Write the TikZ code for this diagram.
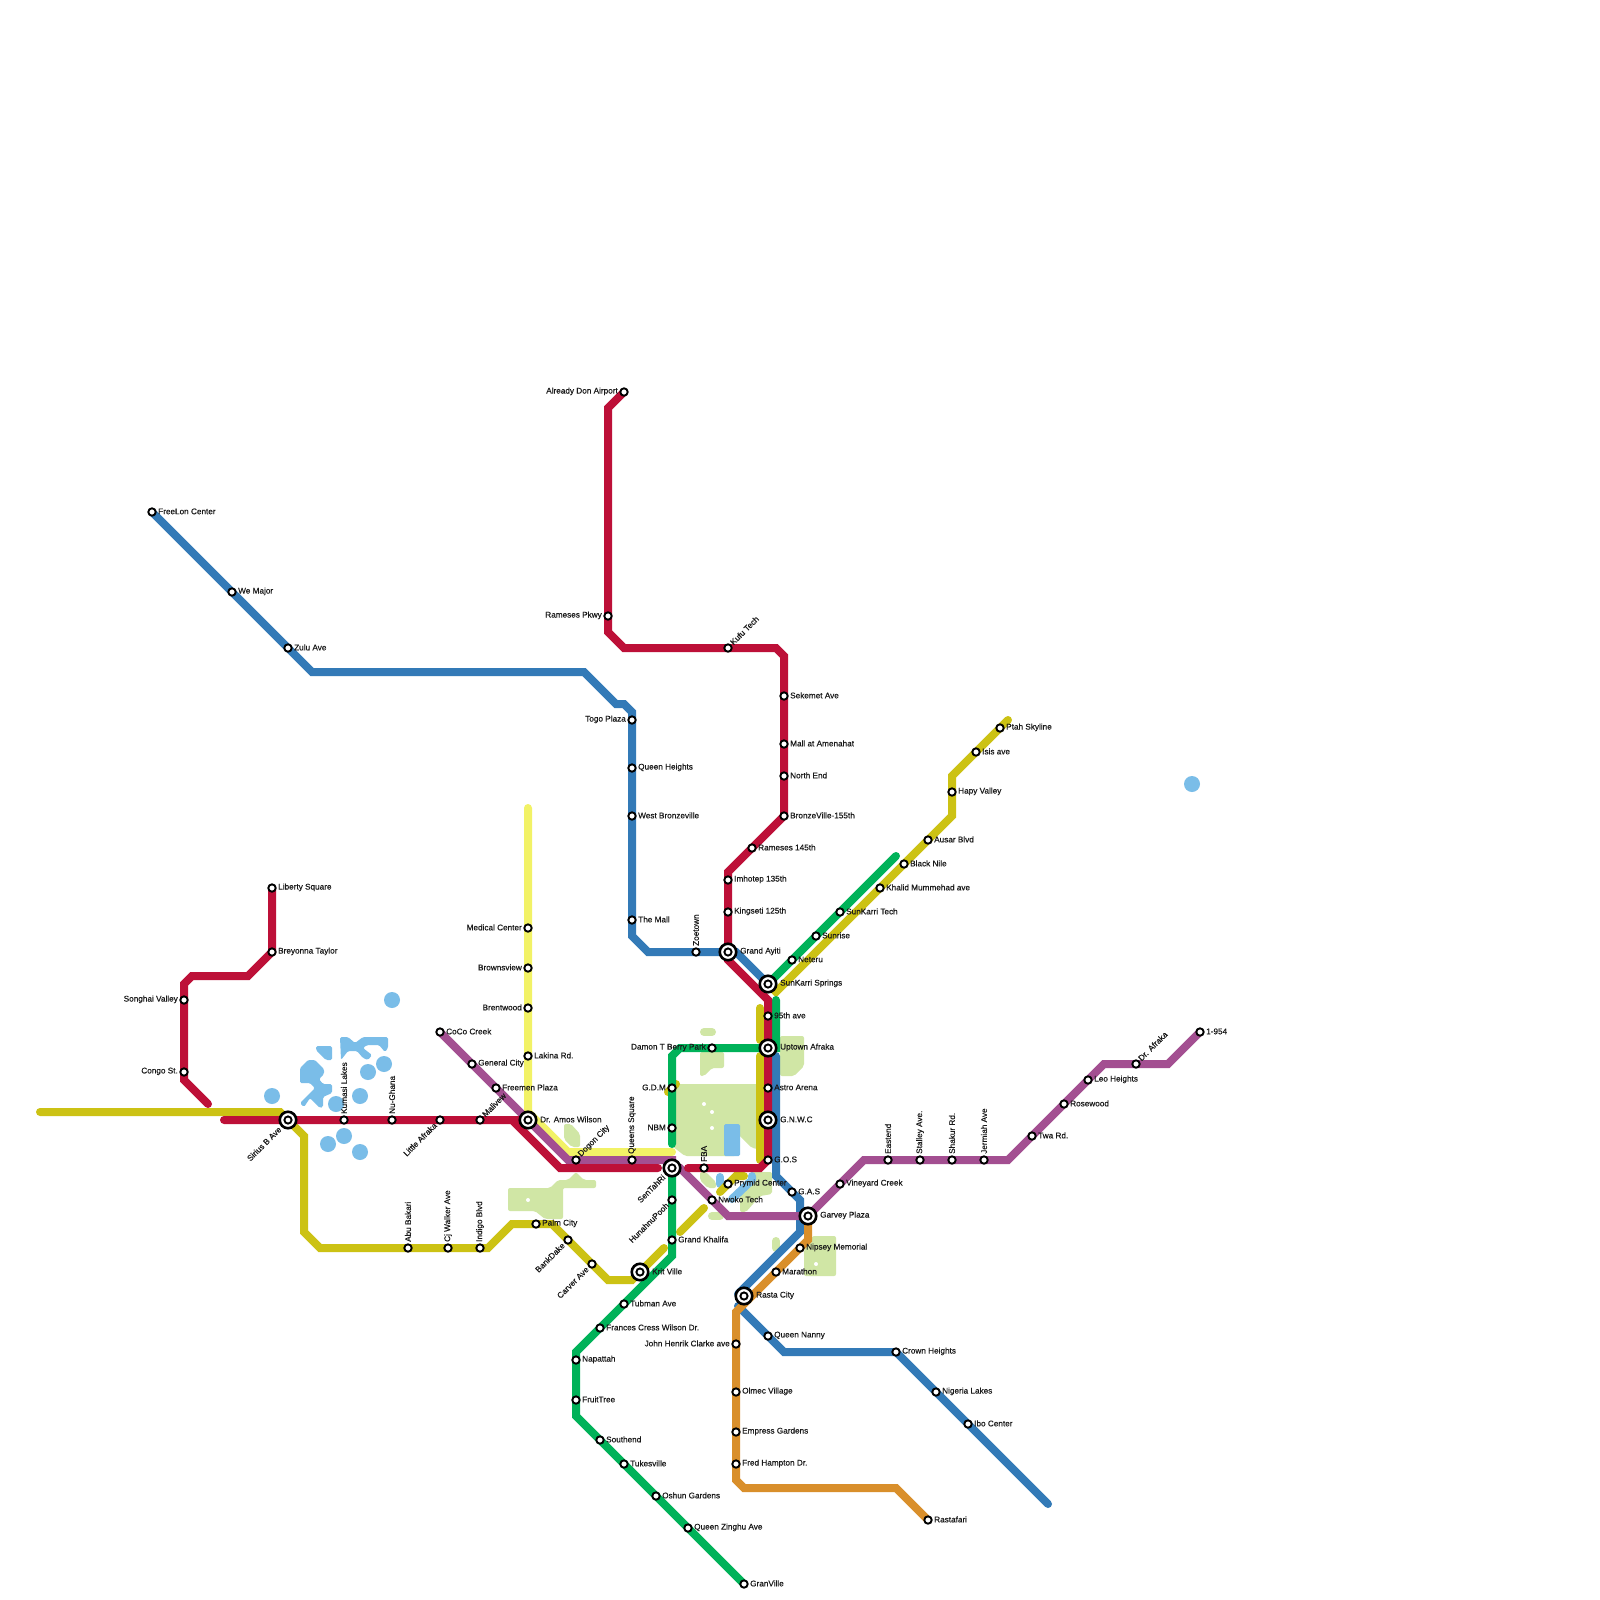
\documentclass[tikz,border=0pt]{standalone}
\usepackage{fontspec}
\setmainfont[FakeBold=0.4]{Liberation Sans}
\definecolor{cred}{HTML}{BD1038}
\definecolor{cblue}{HTML}{337AB7}
\definecolor{cpurple}{HTML}{A34F91}
\definecolor{cyell}{HTML}{F2F266}
\definecolor{colive}{HTML}{CCC214}
\definecolor{cgreen}{HTML}{00B259}
\definecolor{corange}{HTML}{D98F2B}
\definecolor{cpark}{HTML}{D0E6A5}
\definecolor{cwater}{HTML}{7ABDE8}
\pgfdeclarelayer{parks}
\pgfdeclarelayer{lines}
\pgfsetlayers{parks,lines,main}
\tikzset{
  stn/.style={circle,draw=black,fill=white,line width=1.9pt,minimum size=7.4pt,inner sep=0pt},
  hub/.style={circle,draw=black,fill=white,line width=2.6pt,minimum size=16.5pt,inner sep=0pt,
    path picture={\draw[black,line width=1.9pt] (path picture bounding box.center) circle (3.6pt);}},
  lab/.style={inner sep=0pt,text=black!90,font=\fontsize{8.2}{9}\selectfont},
  mline/.style={line width=8pt,line cap=round,line join=miter,miter limit=4},
  park/.style={fill=cpark,rounded corners=2pt},
  parkpill/.style={draw=cpark,line width=8pt,line cap=round},
  waterpill/.style={draw=cwater,line width=8pt,line cap=round,line join=round},
  water/.style={fill=cwater,rounded corners=1.5pt}
}
\newcommand\sR[4]{\node[stn] (#1) at (#2,#3) {}; \node[lab,anchor=west] (#1t) at (#2+6,#3-0.6) {#4};}
\newcommand\sL[4]{\node[stn] (#1) at (#2,#3) {}; \node[lab,anchor=east] (#1t) at (#2-6,#3-0.6) {#4};}
\newcommand\sU[4]{\node[stn] (#1) at (#2,#3) {}; \node[lab,anchor=west,rotate=90] (#1t) at (#2,#3-6) {#4};}
\newcommand\sA[4]{\node[stn] (#1) at (#2,#3) {}; \node[lab,anchor=west,rotate=45] (#1t) at (#2+3.5,#3-4.5) {#4};}
\newcommand\sD[4]{\node[stn] (#1) at (#2,#3) {}; \node[lab,anchor=east,rotate=45] (#1t) at (#2-4.5,#3+4) {#4};}
\newcommand\hR[4]{\node[hub] (#1) at (#2,#3) {}; \node[lab,anchor=west] (#1t) at (#2+12,#3-0.6) {#4};}
\newcommand\hD[4]{\node[hub] (#1) at (#2,#3) {}; \node[lab,anchor=east,rotate=45] (#1t) at (#2-8,#3+8) {#4};}
\begin{document}
\begin{tikzpicture}[x=1pt,y=-1pt]
\useasboundingbox (0,0) rectangle (1600,1600);
% stations: blue
\sR{freelon}{152}{512}{FreeLon Center}
\sR{wemajor}{232}{592}{We Major}
\sR{zulu}{288}{648}{Zulu Ave}
\sL{togo}{632}{720}{Togo Plaza}
\sR{queenh}{632}{768}{Queen Heights}
\sR{westb}{632}{816}{West Bronzeville}
\sR{mall}{632}{920}{The Mall}
\sU{zoe}{696}{952}{Zoetown}
\hR{ayiti}{728}{952}{Grand Ayiti}
\hR{sunk}{768}{984}{SunKarri Springs}
\sR{gas}{792}{1192}{G.A.S}
\hR{garvey}{808}{1216}{Garvey Plaza}
\hR{rasta}{744}{1296}{Rasta City}
\sR{nanny}{768}{1336}{Queen Nanny}
\sR{crown}{896}{1352}{Crown Heights}
\sR{nigeria}{936}{1392}{Nigeria Lakes}
\sR{ibo}{968}{1424}{Ibo Center}
% red
\sL{airport}{624}{392}{Already Don Airport}
\sL{rameses}{608}{616}{Rameses Pkwy}
\sA{kufu}{728}{648}{Kufu Tech}
\sR{sekemet}{784}{696}{Sekemet Ave}
\sR{amenahat}{784}{744}{Mall at Amenahat}
\sR{northend}{784}{776}{North End}
\sR{bronze}{784}{816}{BronzeVille-155th}
\sR{r145}{752}{848}{Rameses 145th}
\sR{imhotep}{728}{880}{Imhotep 135th}
\sR{kingseti}{728}{912}{Kingseti 125th}
\sR{n95}{768}{1016}{95th ave}
\hR{uptown}{768}{1048}{Uptown Afraka}
\sR{astro}{768}{1088}{Astro Arena}
\hR{gnwc}{768}{1120}{G.N.W.C}
\sR{gos}{768}{1160}{G.O.S}
\sU{fba}{704}{1168}{FBA}
\hD{sentahri}{672}{1168}{SenTahRi}
\hD{sirius}{288}{1120}{Sirius B Ave}
\sU{kumasi}{344}{1120}{Kumasi Lakes}
\sU{nughana}{392}{1120}{Nu-Ghana}
\sD{afraka}{440}{1120}{Little Afraka}
\sA{malivew}{480}{1120}{Malivew}
\hR{amos}{528}{1120}{Dr. Amos Wilson}
\sR{liberty}{272}{888}{Liberty Square}
\sR{breyonna}{272}{952}{Breyonna Taylor}
\sL{songhai}{184}{1000}{Songhai Valley}
\sL{congo}{184}{1072}{Congo St.}
% olive
\sU{abu}{408}{1248}{Abu Bakari}
\sU{cj}{448}{1248}{Cj Walker Ave}
\sU{indigo}{480}{1248}{Indigo Blvd}
\sR{palm}{536}{1224}{Palm City}
\sD{bank}{568}{1240}{BankDake}
\sD{carver}{592}{1264}{Carver Ave}
\hR{krit}{640}{1272}{Krit Ville}
\sR{prymid}{728}{1184}{Prymid Center}
\sR{ptah}{1000}{728}{Ptah Skyline}
\sR{isis}{976}{752}{Isis ave}
\sR{hapy}{952}{792}{Hapy Valley}
\sR{ausar}{928}{840}{Ausar Blvd}
\sR{blacknile}{904}{864}{Black Nile}
\sR{khalid}{880}{888}{Khalid Mummehad ave}
% green
\sR{sunktech}{840}{912}{SunKarri Tech}
\sR{sunrise}{816}{936}{Sunrise}
\sR{neteru}{792}{960}{Neteru}
\sL{damon}{712}{1048}{Damon T Berry Park}
\sL{gdm}{672}{1088}{G.D.M}
\sL{nbm}{672}{1128}{NBM}
\sD{hunah}{672}{1200}{HunahnuPooh}
\sR{khalifa}{672}{1240}{Grand Khalifa}
\sR{tubman}{624}{1304}{Tubman Ave}
\sR{frances}{600}{1328}{Frances Cress Wilson Dr.}
\sR{napattah}{576}{1360}{Napattah}
\sR{fruit}{576}{1400}{FruitTree}
\sR{southend}{600}{1440}{Southend}
\sR{tukes}{624}{1464}{Tukesville}
\sR{oshun}{656}{1496}{Oshun Gardens}
\sR{zinghu}{688}{1528}{Queen Zinghu Ave}
\sR{granville}{744}{1584}{GranVille}
% yellow
\sL{medical}{528}{928}{Medical Center}
\sL{browns}{528}{968}{Brownsview}
\sL{brent}{528}{1008}{Brentwood}
\sR{lakina}{528}{1056}{Lakina Rd.}
% purple
\sR{coco}{440}{1032}{CoCo Creek}
\sR{general}{472}{1064}{General City}
\sR{freemen}{496}{1088}{Freemen Plaza}
\sA{dogon}{576}{1160}{Dogon City}
\sU{queens}{632}{1160}{Queens Square}
\sR{nwoko}{712}{1200}{Nwoko Tech}
\sR{vineyard}{840}{1184}{Vineyard Creek}
\sU{eastend}{888}{1160}{Eastend}
\sU{stalley}{920}{1160}{Stalley Ave.}
\sU{shakur}{952}{1160}{Shakur Rd.}
\sU{jermiah}{984}{1160}{Jermiah Ave}
\sR{twa}{1032}{1136}{Twa Rd.}
\sR{rosewood}{1064}{1104}{Rosewood}
\sR{leo}{1088}{1080}{Leo Heights}
\sA{drafraka}{1136}{1064}{Dr. Afraka}
\sR{i954}{1200}{1032}{1-954}
% orange
\sR{nipsey}{800}{1248}{Nipsey Memorial}
\sR{marathon}{776}{1272}{Marathon}
\sL{john}{736}{1344}{John Henrik Clarke ave}
\sR{olmec}{736}{1392}{Olmec Village}
\sR{empress}{736}{1432}{Empress Gardens}
\sR{fred}{736}{1464}{Fred Hampton Dr.}
\sR{rastafari}{928}{1520}{Rastafari}
% bends and free ends
\coordinate (b1) at (312,672); \coordinate (b2) at (584,672); \coordinate (b3) at (616,704);
\coordinate (b4) at (624,704); \coordinate (b5) at (632,712); \coordinate (b6) at (632,936);
\coordinate (b7) at (648,952); \coordinate (b8) at (736,952);
\coordinate (b9) at (776,1056); \coordinate (b10) at (776,1176); \coordinate (b11) at (800,1200);
\coordinate (b12) at (800,1232); \coordinate (b13) at (738,1294); \coordinate (b14) at (738,1306);
\coordinate (b15) at (784,1352); \coordinate (b16) at (1048,1504);
\coordinate (r1) at (608,408); \coordinate (r2) at (608,632); \coordinate (r3) at (624,648);
\coordinate (r4) at (776,648); \coordinate (r5) at (784,656); \coordinate (r6) at (728,872);
\coordinate (r7) at (728,960); \coordinate (r8) at (768,1000); \coordinate (r9) at (760,1168);
\coordinate (r10) at (688,1168); \coordinate (r11) at (658,1168); \coordinate (r12) at (560,1168);
\coordinate (r13) at (512,1120); \coordinate (r14) at (224,1120);
\coordinate (r20) at (248,976); \coordinate (r21) at (192,976); \coordinate (r22) at (184,984);
\coordinate (r23) at (184,1080); \coordinate (r24) at (208,1104);
\coordinate (o1) at (40,1112); \coordinate (o2) at (280,1112); \coordinate (o3) at (304,1136);
\coordinate (o4) at (304,1232); \coordinate (o5) at (320,1248); \coordinate (o6) at (488,1248);
\coordinate (o7) at (512,1224); \coordinate (o8) at (552,1224); \coordinate (o9) at (608,1280);
\coordinate (o10) at (632,1280); \coordinate (o11) at (664,1248); \coordinate (o12) at (680,1232);
\coordinate (o13) at (704,1208); \coordinate (o14) at (720,1192); \coordinate (o15) at (736,1176);
\coordinate (o16) at (744,1176); \coordinate (o17) at (760,1008); \coordinate (o18) at (760,1040);
\coordinate (o19) at (760,1056); \coordinate (o20) at (760,1160); \coordinate (o21) at (668,1092);
\coordinate (o22) at (676,1084); \coordinate (o23) at (776,992); \coordinate (o24) at (952,816);
\coordinate (o25) at (952,776); \coordinate (o26) at (1008,720);
\coordinate (g1) at (896,856); \coordinate (g2) at (776,1000); \coordinate (g3) at (776,1048);
\coordinate (g4) at (680,1048); \coordinate (g5) at (672,1056); \coordinate (g6) at (672,1144);
\coordinate (g7) at (672,1256); \coordinate (g8) at (576,1352); \coordinate (g9) at (576,1416);
\coordinate (y1) at (528,808); \coordinate (y2) at (528,1112); \coordinate (y3) at (568,1152);
\coordinate (y4) at (672,1152);
\coordinate (p1) at (568,1160); \coordinate (p2) at (672,1160); \coordinate (p3) at (680,1168);
\coordinate (p4) at (728,1216); \coordinate (p5) at (864,1160); \coordinate (p6) at (1008,1160);
\coordinate (p7) at (1104,1064); \coordinate (p8) at (1168,1064);
\coordinate (c1) at (808,1240); \coordinate (c2) at (736,1312); \coordinate (c3) at (736,1480);
\coordinate (c4) at (744,1488); \coordinate (c5) at (896,1488);
\begin{pgfonlayer}{parks}
\fill[white] (0,0) rectangle (1600,1600);
% parks
\fill[park] (672,1084) -- (764,1084) -- (764,1150) -- (752,1148) -- (736,1132) -- (736,1156) -- (685,1156) -- (672,1146) -- cycle;
\fill[white] (704,1104) circle (2pt) (712,1112) circle (2pt) (712,1128) circle (2pt);
\draw[parkpill] (704,1032) -- (712,1032);
\fill[park] (700,1052) -- (724,1052) -- (724,1068) -- (712,1068) -- (704,1076) -- (700,1076) -- cycle;
\fill[park] (780,1036) -- (804,1036) -- (804,1066) -- (794,1076) -- (780,1076) -- cycle;
\fill[park] (564,1124) -- (571,1124) -- (580,1134) -- (580,1147) -- (572,1147) -- (564,1139) -- cycle;
\fill[park] (508,1188) -- (550,1188) -- (558,1180) -- (568,1180) -- (576,1172) -- (584,1180) -- (596,1180) -- (596,1188) -- (563,1188) -- (563,1219) -- (545,1219) -- (535,1211) -- (508,1211) -- cycle;
\fill[white] (528,1200) circle (2pt);
\fill[park] (700,1172) -- (706,1172) -- (716,1182) -- (716,1188) -- (708,1188) -- (700,1180) -- cycle;
\fill[park] (752,1172) -- (772,1172) -- (772,1194) -- (760,1196) -- (746,1212) -- (740,1212) -- (740,1192) -- (752,1186) -- cycle;
\draw[parkpill] (712,1216) -- (720,1216);
\draw[parkpill] (776,1241) -- (776,1248);
\fill[park] (812,1236) -- (836,1236) -- (836,1276) -- (804,1276) -- (804,1250) -- cycle;
\fill[white] (816,1264) circle (2pt);
% water
\fill[water] (724,1124) rectangle (740,1156);
\draw[waterpill] (720,1177) -- (720,1184);
\draw[waterpill] (752,1176) -- (752,1180) -- (732,1199);
\foreach \cx/\cy in {392/1000,272/1096,336/1104,360/1096,368/1072,384/1064,344/1136,328/1144,360/1152,1192/784}
  \fill[cwater] (\cx,\cy) circle (8pt);
\fill[water] (316,1046) -- (332,1046) -- (332,1060) -- (326,1060) -- (316,1050) -- cycle;
\fill[water] (300,1068) -- (308,1060) -- (315,1060) -- (324,1069) -- (324,1074) -- (319,1079) -- (323,1084) -- (332,1084) -- (332,1093) -- (323,1097) -- (323,1107) -- (320,1108) -- (315,1103) -- (310,1098) -- (304,1107) -- (300,1103) -- (315,1088) -- (310,1083) -- (300,1083) -- cycle;
\fill[water] (340,1037) -- (348,1037) -- (355,1043) -- (363,1037) -- (388,1037) -- (388,1048) -- (385,1052) -- (379,1045) -- (367,1045) -- (363,1048) -- (372,1055) -- (368,1060) -- (363,1058) -- (357,1051) -- (348,1051) -- (341,1060) -- cycle;
\end{pgfonlayer}
\begin{pgfonlayer}{lines}
% olive
\draw[mline,colive] (o1) -- (o2) -- (sirius.center) -- (o3) -- (o4) -- (o5) -- (abu.center) -- (cj.center) -- (indigo.center) -- (o6) -- (o7) -- (palm.center) -- (o8) -- (bank.center) -- (carver.center) -- (o9) -- (o10) -- (krit.center) -- (o11);
\draw[mline,colive] (o12) -- (o13);
\draw[mline,colive] (o14) -- (o15) -- (o16);
\draw[mline,colive] (o17) -- (o18);
\draw[mline,colive] (o19) -- (o20);
\draw[mline,colive] (o21) -- (o22);
\draw[mline,colive] (sunk.center) -- (o23) -- (khalid.center) -- (blacknile.center) -- (ausar.center) -- (o24) -- (o25) -- (isis.center) -- (ptah.center) -- (o26);
% yellow
\draw[mline,cyell] (y1) -- (medical.center) -- (browns.center) -- (brent.center) -- (lakina.center) -- (y2) -- (y3) -- (y4);
% blue
\draw[mline,cblue] (freelon.center) -- (wemajor.center) -- (zulu.center) -- (b1) -- (b2) -- (b3) -- (b4) -- (b5) -- (togo.center) -- (queenh.center) -- (westb.center) -- (mall.center) -- (b6) -- (b7) -- (zoe.center) -- (ayiti.center) -- (b8) -- (sunk.center);
\draw[mline,cblue] (b9) -- (b10) -- (gas.center) -- (b11) -- (b12) -- (b13);
\draw[mline,cblue] (b14) -- (nanny.center) -- (b15) -- (crown.center) -- (nigeria.center) -- (ibo.center) -- (b16);
% purple
\draw[mline,cpurple] (coco.center) -- (general.center) -- (freemen.center) -- (amos.center) -- (p1) -- (dogon.center) -- (queens.center) -- (p2) -- (sentahri.center) -- (p3) -- (nwoko.center) -- (p4) -- (garvey.center) -- (vineyard.center) -- (p5) -- (eastend.center) -- (stalley.center) -- (shakur.center) -- (jermiah.center) -- (p6) -- (twa.center) -- (rosewood.center) -- (leo.center) -- (p7) -- (drafraka.center) -- (p8) -- (i954.center);
% green
\draw[mline,cgreen] (sunk.center) -- (neteru.center) -- (sunrise.center) -- (sunktech.center) -- (g1);
\draw[mline,cgreen] (g2) -- (g3) -- (uptown.center) -- (damon.center) -- (g4) -- (g5) -- (gdm.center) -- (nbm.center) -- (g6);
\draw[mline,cgreen] (sentahri.center) -- (hunah.center) -- (khalifa.center) -- (g7) -- (tubman.center) -- (frances.center) -- (g8) -- (napattah.center) -- (fruit.center) -- (g9) -- (southend.center) -- (tukes.center) -- (oshun.center) -- (zinghu.center) -- (granville.center);
% orange
\draw[mline,corange] (garvey.center) -- (c1) -- (nipsey.center) -- (marathon.center) -- (c2) -- (john.center) -- (olmec.center) -- (empress.center) -- (fred.center) -- (c3) -- (c4) -- (c5) -- (rastafari.center);
% red
\draw[mline,cred] (airport.center) -- (r1) -- (rameses.center) -- (r2) -- (r3) -- (kufu.center) -- (r4) -- (r5) -- (sekemet.center) -- (amenahat.center) -- (northend.center) -- (bronze.center) -- (r145.center) -- (r6) -- (imhotep.center) -- (kingseti.center) -- (r7) -- (r8) -- (n95.center) -- (uptown.center) -- (astro.center) -- (gnwc.center) -- (gos.center) -- (r9) -- (fba.center) -- (r10);
\draw[mline,cred] (r11) -- (r12) -- (r13) -- (amos.center) -- (malivew.center) -- (afraka.center) -- (nughana.center) -- (kumasi.center) -- (sirius.center) -- (r14);
\draw[mline,cred] (liberty.center) -- (breyonna.center) -- (r20) -- (r21) -- (r22) -- (songhai.center) -- (congo.center) -- (r23) -- (r24);
\end{pgfonlayer}
\end{tikzpicture}
\end{document}
